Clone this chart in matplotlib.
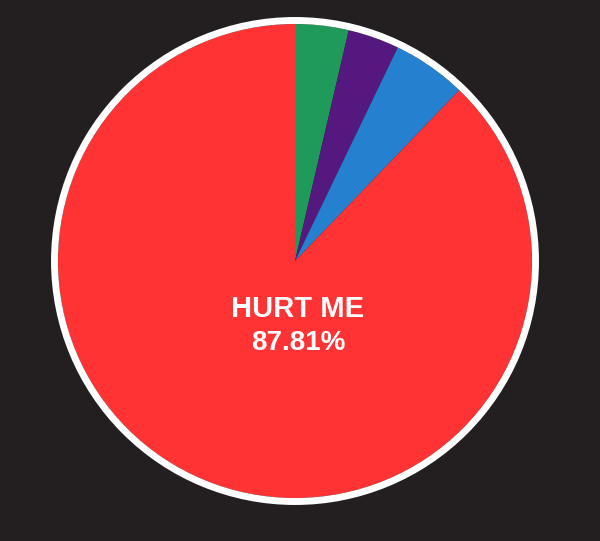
import matplotlib
matplotlib.use("Agg")
import matplotlib.pyplot as plt
from matplotlib.patches import Circle

labels = ["EASY", "NORMAL", "HARD", "HURT ME"]
values = [3.64, 3.50, 5.05, 87.81]
colors = ["#1F9A5B", "#55187F", "#2580D0", "#FF3333"]
bg = "#231F20"

fig = plt.figure(figsize=(6.0, 5.41), dpi=100, facecolor=bg)
ax = fig.add_axes([0, 0, 1, 1])
ax.set_facecolor(bg)

cx, cy, r = 295, 280, 237
ax.pie(values, colors=colors, startangle=90, counterclock=False,
       center=(cx, cy), radius=r, wedgeprops=dict(linewidth=0))
ax.set_xlim(0, 600)
ax.set_ylim(0, 541)
ax.set_aspect("equal")
ax.axis("off")
ax.add_patch(Circle((cx, cy), r + 3.5, fill=False, edgecolor="white", linewidth=5.0))

ax.text(cx + 3, cy - 48, labels[3], color="white", fontsize=21, fontweight="bold",
        family="Liberation Sans", ha="center", va="center")
ax.text(cx + 3, cy - 82, f"{values[3]:.2f}%", color="white", fontsize=20, fontweight="bold",
        family="Liberation Sans", ha="center", va="center")

fig.savefig("out.png", dpi=100, facecolor=bg)
